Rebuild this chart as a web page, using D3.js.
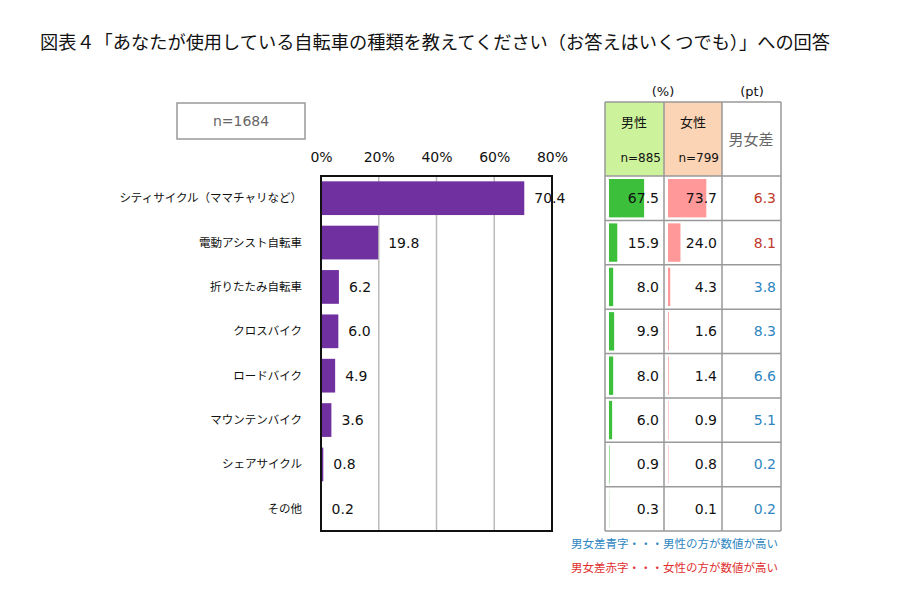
<!DOCTYPE html>
<html>
<head>
<meta charset="utf-8">
<style>
    body { margin: 0; background: #fff; }
    text { font-family: "DejaVu Sans", "Noto Sans CJK JP", sans-serif; }
    .jp { font-family: "Noto Sans CJK JP", sans-serif; }
</style>
</head>
<body>
<svg id="container" width="900" height="600"></svg>
<script src="https://cdn.jsdelivr.net/npm/d3@7"></script>
<script>
    // data
    let categories = ["シティサイクル（ママチャリなど）", "電動アシスト自転車", "折りたたみ自転車", "クロスバイク",
        "ロードバイク", "マウンテンバイク", "シェアサイクル", "その他"]
    let totals = [70.4, 19.8, 6.2, 6.0, 4.9, 3.6, 0.8, 0.2]
    let male = [67.5, 15.9, 8.0, 9.9, 8.0, 6.0, 0.9, 0.3]
    let female = [73.7, 24.0, 4.3, 1.6, 1.4, 0.9, 0.8, 0.1]
    let diff = [6.3, 8.1, 3.8, 8.3, 6.6, 5.1, 0.2, 0.2]
    let xTicks = [0, 20, 40, 60, 80]

    let svg = d3.select("#container")

    svg.append("text")
        .attr("class", "jp")
        .attr("x", 40).attr("y", 49)
        .style("font-size", "18px")
        .attr("textLength", 790)
        .attr("lengthAdjust", "spacingAndGlyphs")
        .attr("fill", "#111")
        .text("図表４「あなたが使用している自転車の種類を教えてください（お答えはいくつでも）」への回答")

    // n box
    svg.append("rect")
        .attr("x", 177).attr("y", 103).attr("width", 128).attr("height", 36)
        .attr("fill", "#fff").attr("stroke", "#999").attr("stroke-width", 1.5)
    svg.append("text")
        .attr("x", 241).attr("y", 126)
        .attr("text-anchor", "middle")
        .style("font-size", "14px")
        .attr("fill", "#666")
        .text("n=1684")

    let plotTop = 176, plotBottom = 531
    let x = d3.scaleLinear().domain([0, 80]).range([321, 552])
    let y = d3.scaleBand().domain(categories).range([plotTop, plotBottom])
        .paddingInner(0.24).paddingOuter(0.12)
    let row = d3.scaleBand().domain(categories).range([plotTop, plotBottom])

    // gridlines
    svg.selectAll(".grid")
        .data(xTicks.slice(1, -1))
        .enter().append("line")
        .attr("x1", d => x(d)).attr("x2", d => x(d))
        .attr("y1", plotTop).attr("y2", plotBottom)
        .attr("stroke", "#bbb").attr("stroke-width", 1.5)

    // top axis labels
    let xAxis = d3.axisTop(x).tickValues(xTicks).tickSize(0).tickFormat(d => d + "%")
    let ax = svg.append("g").attr("transform", "translate(0,165)").call(xAxis)
    ax.select(".domain").remove()
    ax.selectAll("text").style("font-size", "14px").attr("fill", "#111")
        .style("font-family", "DejaVu Sans")

    // bars
    svg.selectAll(".bar")
        .data(totals)
        .enter().append("rect")
        .attr("x", x(0))
        .attr("y", (d, i) => y(categories[i]))
        .attr("width", d => x(d) - x(0))
        .attr("height", y.bandwidth())
        .attr("fill", "#7030a0")

    svg.append("rect")
        .attr("x", x(0)).attr("y", plotTop)
        .attr("width", x(80) - x(0)).attr("height", plotBottom - plotTop)
        .attr("fill", "none").attr("stroke", "#111").attr("stroke-width", 2)

    svg.selectAll(".val")
        .data(totals)
        .enter().append("text")
        .attr("x", d => x(d) + 10)
        .attr("y", (d, i) => y(categories[i]) + y.bandwidth() / 2 + 5)
        .style("font-size", "14px")
        .attr("fill", "#111")
        .text(d => d.toFixed(1))

    svg.selectAll(".cat")
        .data(categories)
        .enter().append("text")
        .attr("class", "jp")
        .attr("x", 302)
        .attr("y", d => y(d) + y.bandwidth() / 2 + 4)
        .attr("text-anchor", "end")
        .style("font-size", "11.5px")
        .attr("fill", "#111")
        .text(d => d)

    // table
    let colX = [605, 664, 722, 781]
    let headTop = 102
    let tx = d3.scaleLinear().domain([0, 100]).range([0, 52])

    svg.append("rect").attr("x", colX[0]).attr("y", headTop)
        .attr("width", colX[1] - colX[0]).attr("height", plotTop - headTop).attr("fill", "#ccf29c")
    svg.append("rect").attr("x", colX[1]).attr("y", headTop)
        .attr("width", colX[2] - colX[1]).attr("height", plotTop - headTop).attr("fill", "#fbd3b5")

    let cols = [
        { vals: male, color: "#3cc03c", text: d => "#111" },
        { vals: female, color: "#ff9999", text: d => "#111" },
        { vals: diff, color: null, text: (d, i) => female[i] > male[i] ? "#c0392b" : "#2e86c1" }
    ]
    cols.forEach((c, ci) => {
        let g = svg.append("g")
        if (c.color) {
            g.selectAll("rect")
                .data(c.vals)
                .enter().append("rect")
                .attr("x", colX[ci] + 4)
                .attr("y", (d, i) => row(categories[i]) + 3)
                .attr("width", d => tx(d))
                .attr("height", row.bandwidth() - 6)
                .attr("fill", c.color)
        }
        g.selectAll("text")
            .data(c.vals)
            .enter().append("text")
            .attr("x", colX[ci + 1] - 5)
            .attr("y", (d, i) => row(categories[i]) + row.bandwidth() / 2 + 5)
            .attr("text-anchor", "end")
            .style("font-size", "14px")
            .attr("fill", c.text)
            .text(d => d.toFixed(1))
    })

    // grid of the table
    let gridColor = "#999"
    colX.forEach(cx => {
        svg.append("line").attr("x1", cx).attr("x2", cx).attr("y1", headTop).attr("y2", plotBottom)
            .attr("stroke", gridColor).attr("stroke-width", 1.5)
    })
    let hLines = [headTop, plotTop].concat(categories.map(c => row(c) + row.bandwidth()))
    svg.selectAll(".hline")
        .data(hLines)
        .enter().append("line")
        .attr("x1", colX[0]).attr("x2", colX[3])
        .attr("y1", d => d).attr("y2", d => d)
        .attr("stroke", gridColor).attr("stroke-width", 1.5)

    // header texts
    let head = [
        { t: "男性", x: 634, y: 127, c: "#111", s: "13px", a: "middle" },
        { t: "女性", x: 693, y: 127, c: "#111", s: "13px", a: "middle" },
        { t: "男女差", x: 751, y: 145, c: "#666", s: "15px", a: "middle" },
        { t: "n=885", x: 661, y: 162, c: "#111", s: "12px", a: "end" },
        { t: "n=799", x: 719, y: 162, c: "#111", s: "12px", a: "end" },
        { t: "(%)", x: 663, y: 96, c: "#111", s: "13px", a: "middle" },
        { t: "(pt)", x: 752, y: 96, c: "#111", s: "13px", a: "middle" }
    ]
    svg.selectAll(".head")
        .data(head)
        .enter().append("text")
        .attr("class", d => /[a-z0-9(]/.test(d.t) ? null : "jp")
        .attr("x", d => d.x).attr("y", d => d.y)
        .attr("text-anchor", d => d.a)
        .style("font-size", d => d.s)
        .attr("fill", d => d.c)
        .text(d => d.t)

    // notes
    let notes = [
        { t: "男女差青字・・・男性の方が数値が高い", c: "#2e86c1", y: 548 },
        { t: "男女差赤字・・・女性の方が数値が高い", c: "#e03030", y: 572 }
    ]
    svg.selectAll(".note")
        .data(notes)
        .enter().append("text")
        .attr("class", "jp")
        .attr("x", 778).attr("y", d => d.y)
        .attr("text-anchor", "end")
        .style("font-size", "11.5px")
        .attr("fill", d => d.c)
        .text(d => d.t)
</script>
</body>
</html>
